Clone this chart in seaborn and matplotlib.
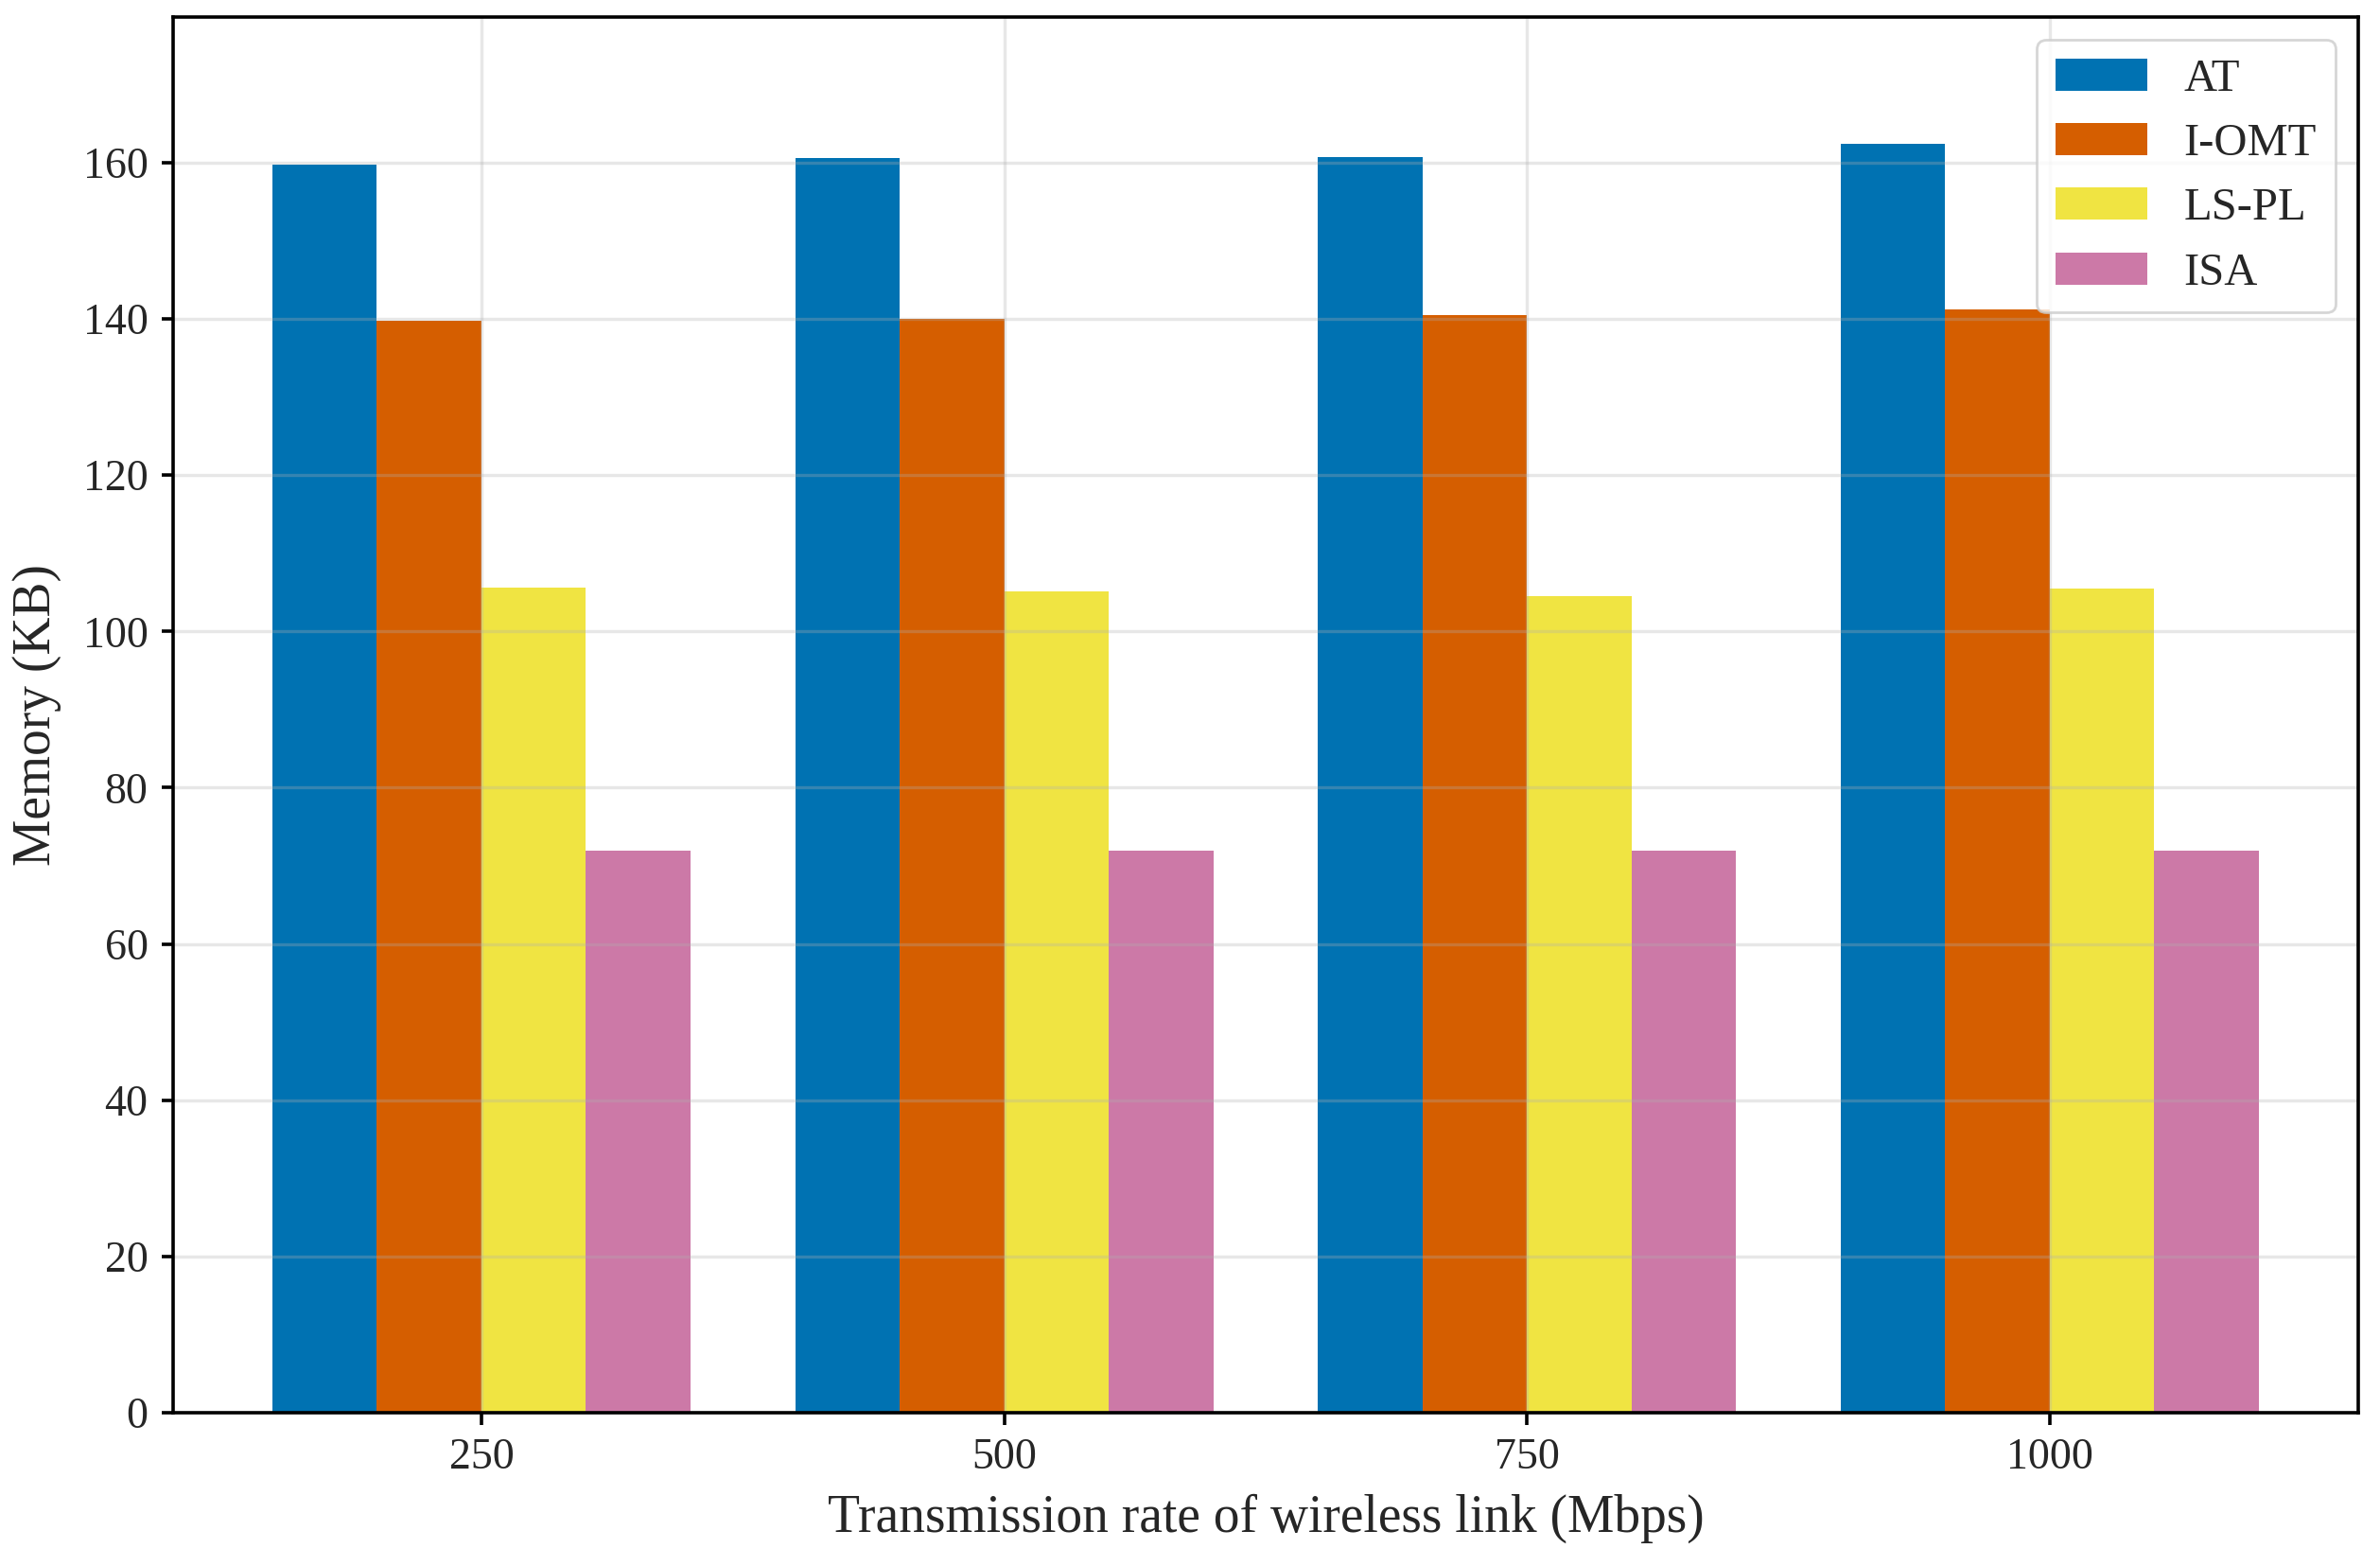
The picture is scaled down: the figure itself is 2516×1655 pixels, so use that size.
import pandas as pd
import matplotlib
matplotlib.use("Agg")
import matplotlib.pyplot as plt
import seaborn as sns

# data
rates = ["250", "500", "750", "1000"]
methods = ["AT", "I-OMT", "LS-PL", "ISA"]
at_mem = [159.8, 160.6, 160.7, 162.4]
iomt_mem = [139.8, 140.0, 140.5, 141.2]
lspl_mem = [105.6, 105.1, 104.5, 105.5]
isa_mem = [71.9, 72.0, 72.0, 72.0]

colors = ["#0072B2", "#D55E00", "#F0E442", "#CC79A7"]

# long format table for seaborn
rows = []
for name, vals in zip(methods, [at_mem, iomt_mem, lspl_mem, isa_mem]):
    for r, v in zip(rates, vals):
        rows.append({"rate": r, "method": name, "memory": v})
df = pd.DataFrame(rows)

sns.set_style("ticks")
plt.rcParams["font.family"] = ["Liberation Serif", "DejaVu Serif"]
plt.rcParams["axes.axisbelow"] = "line"

fig = plt.figure(figsize=(12.58, 8.275), dpi=200)
ax = fig.add_axes([0.0727, 0.0979, 0.9181, 0.8912])

sns.barplot(data=df, x="rate", y="memory", hue="method", order=rates,
            hue_order=methods, palette=colors, width=0.8, saturation=1,
            linewidth=0, errorbar=None, ax=ax)

ax.set_xlim(-0.59, 3.59)
ax.set_ylim(0, max(at_mem) * 1.1)
ax.set_yticks(range(0, 161, 20))

# grid sits above the bars, like the matplotlib default
ax.grid(True, color="#b0b0b0", alpha=0.3, linewidth=1.2)
ax.set_axisbelow("line")

for s in ax.spines.values():
    s.set_visible(True)
    s.set_linewidth(1.3)
    s.set_color("black")

ax.tick_params(axis="both", labelsize=16.5, length=4.5, width=1.3, pad=5, color="black")
ax.set_xlabel("Transmission rate of wireless link (Mbps)", fontsize=20, labelpad=6)
ax.set_ylabel("Memory (KB)", fontsize=20, labelpad=8)

handles, labels = ax.get_legend_handles_labels()
ax.legend(handles, labels, loc="upper right", fontsize=17.5, frameon=True)

fig.savefig("out.png", dpi=200)
